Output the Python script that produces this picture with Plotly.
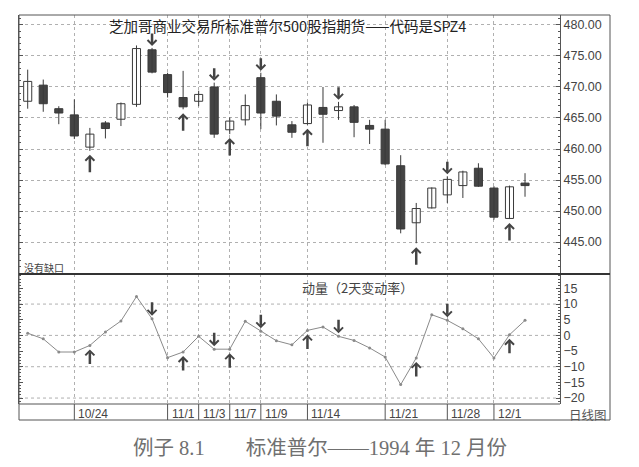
import plotly.graph_objects as go

# S&P 500 futures SPZ4, daily bars 1994-10-19 .. 1994-12-05
opens = [467.7, 470.3, 466.5, 465.5, 460.3, 464.2, 464.8, 467.2, 476.0, 472.0, 468.3,
         467.7, 470.0, 463.1, 464.7, 471.5, 467.7, 463.9, 464.1, 466.7, 466.2, 466.8,
         463.8, 463.2, 457.3, 448.1, 450.5, 452.6, 454.1, 456.9, 453.7, 448.8, 454.5]
highs = [472.8, 471.2, 466.9, 468.0, 463.4, 464.5, 467.5, 476.7, 476.3, 472.3, 472.6,
         469.4, 470.7, 465.1, 468.8, 472.3, 468.8, 464.5, 467.5, 470.0, 467.6, 467.1,
         464.7, 464.7, 459.0, 451.3, 453.8, 455.6, 456.5, 457.7, 454.0, 454.1, 456.1]
lows = [466.5, 466.0, 464.0, 461.6, 459.7, 461.7, 463.7, 466.8, 472.2, 468.3, 466.4,
        466.9, 461.8, 462.4, 463.8, 463.2, 463.8, 461.8, 463.9, 461.0, 464.7, 461.9,
        460.8, 457.4, 446.4, 444.8, 450.4, 451.3, 452.1, 453.9, 448.6, 448.7, 452.3]
closes = [470.9, 467.3, 465.8, 462.1, 462.4, 463.3, 467.3, 476.2, 472.4, 469.1, 466.8,
          468.8, 462.4, 464.5, 467.0, 465.8, 465.3, 462.7, 467.1, 465.6, 466.8, 464.3,
          463.2, 457.6, 447.1, 450.4, 453.7, 455.1, 456.3, 454.0, 449.0, 453.9, 454.1]

# 动量（2天变动率）
momentum = [0.7, -1.1, -5.3, -5.3, -3.2, 1.1, 4.6, 12.4, 5.3, -7.1, -5.3, -0.3, -4.4,
            -4.4, 4.5, 1.3, -1.7, -3.0, 1.6, 2.7, -0.3, -1.6, -4.0, -6.9, -15.7, -7.2,
            6.6, 4.8, 2.1, -1.1, -7.2, 0.2, 4.8]

date_idx = [3, 9, 11, 13, 15, 18, 23, 27, 30]
date_labels = ["10/24", "11/1", "11/3", "11/7", "11/9", "11/14", "11/21", "11/28", "12/1"]

down_arrows = [8, 12, 15, 20, 27]
up_arrows = [4, 10, 13, 18, 25, 31]

price_ticks = [445, 450, 455, 460, 465, 470, 475, 480]
mom_ticks = [-20, -15, -10, -5, 0, 5, 10, 15]
mom_grid = [-20, -10, 0, 10]

FONT = "Liberation Sans, Noto Sans CJK SC"
CJK = "Noto Sans CJK SC"
DARK = "#3a3a3a"
FRAME = "#555555"
GRID = "#b0b0b0"
ARROW = "#444444"

# panel layout (paper fractions, bottom to top)
STRIP_TOP = 16 / 405
SPLIT = 146 / 405
RIGHT_EDGE = 591 / 541

x = list(range(len(closes)))

# wicks as one broken line
wick_x, wick_y = [], []
for i in x:
    wick_x += [i, i, None]
    wick_y += [lows[i], highs[i], None]

body_base = [min(o, c) for o, c in zip(opens, closes)]
body_len = [abs(c - o) for o, c in zip(opens, closes)]
body_fill = ["white" if c >= o else "#444444" for o, c in zip(opens, closes)]

fig = go.Figure()

fig.add_trace(go.Scatter(
    x=wick_x, y=wick_y, mode="lines", line=dict(color=DARK, width=1),
    showlegend=False, hoverinfo="skip", xaxis="x", yaxis="y",
))
fig.add_trace(go.Bar(
    x=x, y=body_len, base=body_base, width=0.52,
    marker=dict(color=body_fill, line=dict(color=DARK, width=1)),
    showlegend=False, hoverinfo="skip", xaxis="x", yaxis="y",
))

fig.add_trace(go.Scatter(
    x=x, y=momentum, mode="lines+markers",
    line=dict(color="#8a8a8a", width=1),
    marker=dict(color="#8a8a8a", size=3),
    showlegend=False, hoverinfo="skip",
    xaxis="x2", yaxis="y2",
))

annotations = []


def arrow(i, yval, xref, yref, ay, standoff):
    return dict(x=i, y=yval, xref=xref, yref=yref, text="", showarrow=True,
                ax=0, ay=ay, standoff=standoff, arrowhead=4, arrowsize=0.7,
                arrowwidth=2.5, arrowcolor=ARROW)


def label(text, px, py, size, color="#444444", family=CJK, **kw):
    # px, py are window pixels; plot area spans x 19..560, y 15..420
    return dict(x=(px - 19) / 541, y=(420 - py) / 405, xref="paper", yref="paper",
                text=text, showarrow=False, yanchor="middle",
                font=dict(size=size, color=color, family=family), **kw)


for i in down_arrows:
    annotations.append(arrow(i, highs[i], "x", "y", -16, 2))
    annotations.append(arrow(i, momentum[i], "x2", "y2", -18, 3))
for i in up_arrows:
    annotations.append(arrow(i, lows[i], "x", "y", 23, 4))
    annotations.append(arrow(i, momentum[i], "x2", "y2", 20, 4))

# date labels in the bottom strip
for i, lab in zip(date_idx, date_labels):
    annotations.append(dict(x=i, y=(420 - 414) / 405, xref="x2", yref="paper", text=lab,
                            showarrow=False, xanchor="left", yanchor="middle", xshift=2,
                            font=dict(size=12, color="#444444")))

annotations += [
    label("芝加哥商业交易所标准普尔500股指期货——代码是SPZ4", 287, 25, 14.5,
          color="#222222", xanchor="center"),
    label("没有缺口", 22, 267, 10, xanchor="left"),
    label("动量（2天变动率）", 357, 287, 13, xanchor="center"),
    label("日线图", 609, 414, 12.5, color="#555555", xanchor="right"),
    label("例子 8.1　　标准普尔——1994 年 12 月份", 320, 448, 20.5, color="#707070",
          family="Liberation Serif, Noto Sans CJK SC", xanchor="center"),
]

shapes = [
    # outer frame
    dict(type="rect", xref="paper", yref="paper", x0=0, x1=RIGHT_EDGE, y0=0, y1=1,
         line=dict(color=FRAME, width=1)),
    # separator between the two panels
    dict(type="line", xref="paper", yref="paper", x0=0, x1=RIGHT_EDGE, y0=SPLIT, y1=SPLIT,
         line=dict(color="#333333", width=2)),
    # top of the date strip
    dict(type="line", xref="paper", yref="paper", x0=0, x1=1, y0=STRIP_TOP, y1=STRIP_TOP,
         line=dict(color=FRAME, width=1)),
]
for v in mom_grid:
    shapes.append(dict(type="line", xref="paper", yref="y2", x0=0, x1=1, y0=v, y1=v,
                       line=dict(color=GRID, width=1, dash="dot"), layer="below"))
for i in date_idx:
    shapes.append(dict(type="line", xref="x2", yref="paper", x0=i, x1=i, y0=0, y1=STRIP_TOP,
                       line=dict(color=FRAME, width=1)))

xcommon = dict(range=[-0.56, 34.25], tickvals=date_idx, showticklabels=False, ticks="",
               showgrid=True, gridcolor=GRID, griddash="dot", gridwidth=1, zeroline=False,
               showline=False)

ycommon = dict(side="right", zeroline=False, showline=True, linecolor=FRAME,
               mirror="allticks", ticks="inside", ticklen=4, tickcolor=FRAME,
               minor=dict(dtick=1, ticks="inside", ticklen=2, tickcolor=FRAME),
               tickfont=dict(size=12.5, color="#444444"))

# page body has an 8px margin, so the figure is drawn 16px smaller
fig.update_layout(
    width=623, height=451,
    margin=dict(l=11, r=71, t=7, b=39),
    paper_bgcolor="white", plot_bgcolor="white",
    font=dict(family=FONT, size=12, color="#444444"),
    xaxis=dict(domain=[0, 1], anchor="y", **xcommon),
    xaxis2=dict(domain=[0, 1], anchor="y2", matches="x", **xcommon),
    yaxis=dict(domain=[SPLIT, 1], anchor="x", range=[439.84, 481.61],
               tickvals=price_ticks, ticktext=[f"{v:.2f}" for v in price_ticks],
               showgrid=True, gridcolor=GRID, griddash="dot", **ycommon),
    yaxis2=dict(domain=[STRIP_TOP, SPLIT], anchor="x2", range=[-21.9, 19.6],
                tickvals=mom_ticks, showgrid=False, **ycommon),
    annotations=annotations,
    shapes=shapes,
)

fig.write_html("out.html")
